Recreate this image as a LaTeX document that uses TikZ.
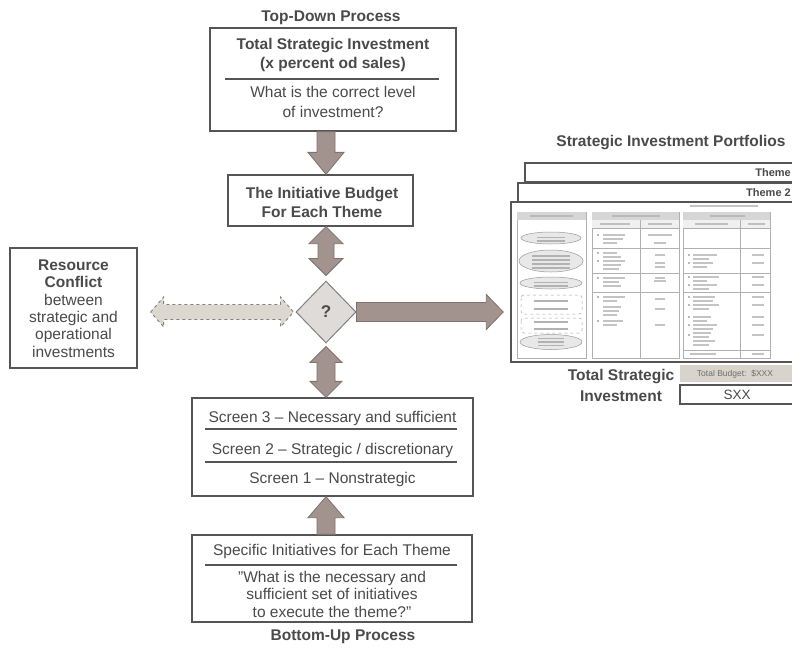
\documentclass[tikz,border=0pt]{standalone}
\usepackage{fontspec}
\setmainfont{Liberation Sans}
\usetikzlibrary{calc,shapes.geometric}
\definecolor{txt}{HTML}{4A4A4A}
\definecolor{boxline}{HTML}{555555}
\definecolor{arrfill}{HTML}{A2938F}
\definecolor{arrline}{HTML}{7F726E}
\definecolor{diafill}{HTML}{DEDBD8}
\definecolor{dashfill}{HTML}{DCD8CF}
\definecolor{tblline}{HTML}{B0B0B0}
\definecolor{blur}{HTML}{C4C4C4}
\definecolor{hdrfill}{HTML}{D6D6D6}
\definecolor{budfill}{HTML}{D8D4CB}

\newcommand\fatsingle[6][]{%
  \path (#2) coordinate (fa1) (#3) coordinate (fa2);
  \path ($(fa2)!#6!(fa1)$) coordinate (fah);
  \draw[fatarrow,#1] ($(fa1)!#4!90:(fa2)$) -- ($(fah)!#4!90:(fa2)$) -- ($(fah)!#5!90:(fa2)$) -- (fa2)
    -- ($(fah)!#5!-90:(fa2)$) -- ($(fah)!#4!-90:(fa2)$) -- ($(fa1)!#4!-90:(fa2)$) -- cycle;}
\newcommand\fatdouble[6][]{%
  \path (#2) coordinate (fa1) (#3) coordinate (fa2);
  \path ($(fa2)!#6!(fa1)$) coordinate (fah) ($(fa1)!#6!(fa2)$) coordinate (fat);
  \draw[fatarrow,#1] (fa1) -- ($(fat)!#5!90:(fa2)$) -- ($(fat)!#4!90:(fa2)$) -- ($(fah)!#4!90:(fa2)$)
    -- ($(fah)!#5!90:(fa2)$) -- (fa2) -- ($(fah)!#5!-90:(fa2)$) -- ($(fah)!#4!-90:(fa2)$)
    -- ($(fat)!#4!-90:(fa2)$) -- ($(fat)!#5!-90:(fa2)$) -- cycle;}

\tikzset{
  tx/.style={text=txt, inner sep=0pt, align=center, font=\fontsize{15.5}{19}\selectfont},
  bx/.style={tx, font=\fontsize{15.5}{19}\selectfont\bfseries},
  box/.style={draw=boxline, line width=1.3pt, fill=white, inner sep=0pt},
  sepline/.style={draw=boxline, line width=1.1pt},
  fatarrow/.style={fill=arrfill, draw=arrline, line width=0.8pt, line join=miter},
  dasharrow/.style={fill=dashfill, draw=gray, dashed, line width=0.9pt},
  sheet/.style={draw=boxline, line width=1.4pt, fill=white, inner sep=0pt},
  tbl/.style={draw=tblline, line width=0.5pt},
  bl/.style={fill=blur},
  ell/.style={ellipse, draw=gray!80, fill=gray!18, line width=0.5pt, inner sep=0pt},
  themetx/.style={text=txt, font=\fontsize{11}{13}\selectfont\bfseries, anchor=east, inner sep=0pt},
}

\begin{document}
\begin{tikzpicture}[x=1pt,y=-1pt]
\fill[white] (0,0) rectangle (792,648);
\useasboundingbox (0,0) rectangle (792,648);

% ---------- left column ----------
\node[bx] (tdlabel) at (331,18) {Top-Down Process};
\node[box, minimum width=246pt, minimum height=103pt] (top) at (333,79.5) {};
\node[bx] (topa) at (333,55) {Total Strategic Investment\\(x percent od sales)};
\draw[sepline] (225,79) -- (439,79);
\node[tx, font=\fontsize{15.5}{20}\selectfont] (topb) at (333,102) {What is the correct level\\of investment?};

\node[box, minimum width=185pt, minimum height=51pt] (budget) at (320.5,200.5) {};
\node[bx] (budt) at (322,202.5) {The Initiative Budget\\For Each Theme};

\node[diamond, draw=gray, fill=diafill, line width=1pt, minimum width=60pt, minimum height=62pt, inner sep=0pt] (dia) at (326,312) {};
\node[text=txt, font=\fontsize{17}{20}\selectfont\bfseries] (q) at (dia.center) {?};

\node[box, minimum width=127pt, minimum height=120pt] (res) at (73.5,308) {};
\node[tx, font=\fontsize{15.5}{17.4}\selectfont] (rest) at (73.5,308.5)
  {\textbf{Resource}\\\textbf{Conflict}\\between\\strategic and\\operational\\investments};

\node[box, minimum width=281pt, minimum height=98pt] (screens) at (332.5,447) {};
\node[tx] (s3) at (332.5,418) {Screen 3 – Necessary and sufficient};
\draw[sepline] (205,429) -- (457,429);
\node[tx] (s2) at (332.5,450) {Screen 2 – Strategic / discretionary};
\draw[sepline] (205,462) -- (457,462);
\node[tx] (s1) at (332.5,479) {Screen 1 – Nonstrategic};

\node[box, minimum width=280pt, minimum height=87pt] (bottom) at (332,578.5) {};
\node[tx] (bt1) at (332,551) {Specific Initiatives for Each Theme};
\draw[sepline] (205,565) -- (457,565);
\node[tx, font=\fontsize{15.5}{17.5}\selectfont] (bt2) at (332,594) {\symbol{34}What is the necessary and\\sufficient set of initiatives\\to execute the theme?\symbol{34}};
\node[bx] (bulabel) at (343,637) {Bottom-Up Process};

% ---------- right: portfolios ----------
\node[bx] (portlabel) at (671,143) {Strategic Investment Portfolios};
\node[sheet, minimum width=270pt, minimum height=19pt] (sh3) at (660,172.5) {};
\node[themetx] (sh3t) at (791,172.5) {Theme};
\node[sheet, minimum width=277pt, minimum height=19pt] (sh2) at (656.5,192.5) {};
\node[themetx] (sh2t) at (791,192.5) {Theme 2};
\node[sheet, minimum width=284pt, minimum height=160pt] (front) at (653,282) {};

% table mock-up (blurred content)
\fill[bl] (690,204.5) rectangle (758,207);
% column 1
\draw[tbl] (517,212) rectangle (586,358);
\fill[hdrfill] (517.3,212.3) rectangle (585.7,220);
\fill[gray!55] (530,215) rectangle (573,217);
\node[ell, minimum width=60pt, minimum height=12pt] (e1) at (551,238) {};
\node[ell, minimum width=64pt, minimum height=22pt] (e2) at (551,261) {};
\node[ell, minimum width=62pt, minimum height=12pt] (e3) at (551,283) {};
\draw[gray!70, line width=0.5pt, rounded corners=3pt, dashed] (521,295) rectangle (582,314);
\draw[gray!70, line width=0.5pt, rounded corners=3pt, dashed] (521,318) rectangle (582,333);
\node[ell, minimum width=62pt, minimum height=15pt] (e4) at (551,342) {};
\foreach \y in {236.5,240}{\fill[gray!60] (537,\y) rectangle (565,\y+1.6);}
\foreach \y in {255,259,263,267}{\fill[gray!60] (532,\y) rectangle (570,\y+1.6);}
\foreach \y in {281.5,285}{\fill[gray!60] (534,\y) rectangle (568,\y+1.6);}
\foreach \y in {300,308}{\fill[gray!60] (534,\y) rectangle (568,\y+1.6);}
\foreach \y in {321,328}{\fill[gray!60] (534,\y) rectangle (568,\y+1.6);}
\foreach \y in {337.5,341,344.5}{\fill[gray!60] (538,\y) rectangle (564,\y+1.6);}
% column 2
\draw[tbl] (592,212) rectangle (679,358);
\fill[hdrfill] (592.3,212.3) rectangle (678.7,220);
\fill[gray!55] (612,215) rectangle (660,217);
\fill[gray!12] (592.3,220) rectangle (678.7,228);
\draw[tbl] (592,228) -- (679,228);
\draw[tbl] (640,220) -- (640,358);
\fill[gray!50] (600,223) rectangle (630,225);\fill[gray!50] (648,223) rectangle (672,225);
\foreach \y in {248,273,292}{\draw[tbl] (592,\y) -- (679,\y);}
\foreach \y/\w in {234/22,238/20,242/14,252/14,256/18,260/22,264/18,268/16,277/22,281/16,285/18,296/22,300/14,306/18,310/16,314/14,320/20,324/14}{
  \fill[blur] (603,\y) rectangle (603+\w,\y+1.6);}
\foreach \y in {234,252,260,277,296,320}{\fill[gray!55] (597,\y) rectangle (598.6,\y+1.6);}
\foreach \y/\w in {234/24,242/12,254/10,262/10,266/10,277/10,280/12,298/10,308/10,324/10}{
  \fill[blur] (660-\w/2,\y) rectangle (660+\w/2,\y+1.6);}
% column 3
\draw[tbl] (683,212) rectangle (770,358);
\fill[hdrfill] (683.3,212.3) rectangle (769.7,220);
\fill[gray!55] (710,215) rectangle (745,217);
\fill[gray!12] (683.3,220) rectangle (769.7,228);
\draw[tbl] (683,228) -- (770,228);
\draw[tbl] (740,220) -- (740,358);
\fill[gray!50] (695,223) rectangle (728,225);\fill[gray!50] (748,223) rectangle (765,225);
\foreach \y in {248,273,292,350}{\draw[tbl] (683,\y) -- (770,\y);}
\foreach \y/\w in {254/24,258/16,262/20,266/14,276/26,280/14,284/24,288/16,296/22,300/20,304/26,308/16,316/18,320/14,324/24,328/20,332/18,336/16,340/22,344/16}{
  \fill[blur] (693,\y) rectangle (693+\w,\y+1.6);}
\foreach \y in {254,262,276,284,296,304,316,324,334}{\fill[gray!55] (688,\y) rectangle (689.6,\y+1.6);
  \fill[blur] (752,\y) rectangle (764,\y+1.6);}
\fill[blur] (690,353) rectangle (716,354.6);\fill[blur] (752,353) rectangle (764,354.6);

\node[bx, font=\fontsize{15.5}{21}\selectfont\bfseries] (tsi) at (621,385) {Total Strategic\\Investment};
\node[fill=budfill, minimum width=115pt, minimum height=17pt, inner sep=0pt] (tbud) at (737.5,373.5) {};
\node[text=txt!80, font=\fontsize{8.5}{10}\selectfont, inner sep=0pt] (tbudt) at (735,374) {Total Budget:\ \ \$XXX};
\node[sheet, line width=1.3pt, minimum width=115pt, minimum height=19pt] (sxx) at (737.5,394.5) {};
\node[tx, font=\fontsize{13.5}{16}\selectfont] (sxxt) at (737,394.5) {SXX};

% ---------- fat arrows ----------
\fatsingle{top.south -| dia.center}{budget.north -| dia.center}{9pt}{18pt}{22pt}
\fatdouble{budget.south -| dia.center}{$(dia.north)+(0,5pt)$}{8pt}{17pt}{17pt}
\fatdouble{$(dia.south)+(0,-3pt)$}{screens.north -| dia.center}{9pt}{16pt}{16pt}
\fatsingle{bottom.north -| dia.center}{screens.south -| dia.center}{9pt}{18pt}{21pt}
\fatsingle{dia.east}{$(front.west |- dia.center)+(-7pt,0)$}{9.5pt}{17.5pt}{17pt}
\fatdouble[dasharrow]{$(res.east |- dia.center)+(13pt,0)$}{$(dia.west)+(-2pt,0)$}{7.5pt}{15pt}{13pt}
\end{tikzpicture}
\end{document}
